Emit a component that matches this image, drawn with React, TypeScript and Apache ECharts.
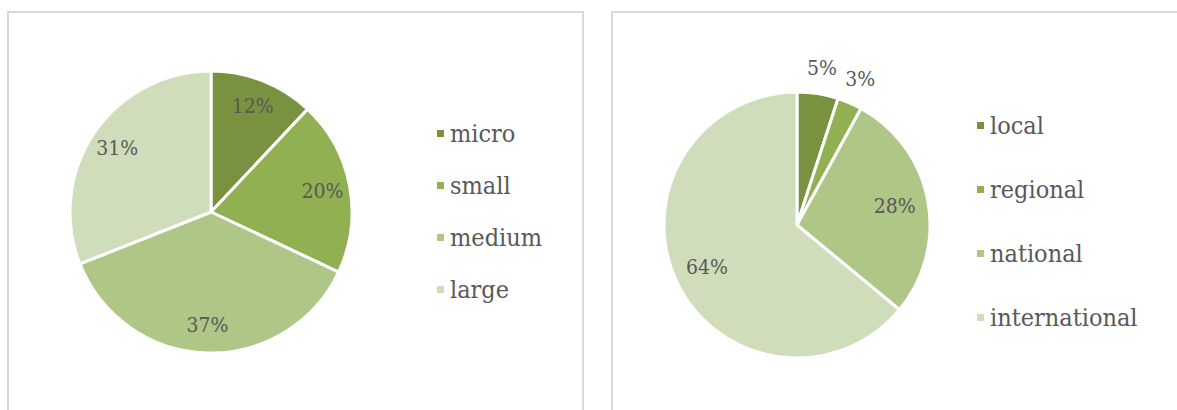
import React, { useEffect, useRef } from "react";
import * as echarts from "echarts";

const sizeNames = ["micro", "small", "medium", "large"];
const sizeValues = [12, 20, 37, 31];
const marketNames = ["local", "regional", "national", "international"];
const marketValues = [5, 3, 28, 64];
const greens = ["#78923F", "#90B052", "#AEC686", "#D0DDBB"];

const FONT = "DejaVu Serif Condensed";
const TEXT = "#595959";

export default function App() {
  const ref = useRef<HTMLDivElement>(null);
  useEffect(() => {
    if (!ref.current) return;
    const chart = echarts.init(ref.current, undefined, { renderer: "svg" });
    const mk = (names: string[], vals: number[]) =>
      names.map((n, i) => ({ name: n, value: vals[i], itemStyle: { color: greens[i] } }));
    const labelStyle = { color: TEXT, fontFamily: FONT, fontSize: 21 };
    chart.setOption({
      animation: false,
      graphic: [
        { type: "rect", shape: { x: 8, y: 12, width: 575, height: 420 }, style: { fill: "none", stroke: "#d9d9d9", lineWidth: 2 }, silent: true },
        { type: "rect", shape: { x: 612, y: 12, width: 600, height: 420 }, style: { fill: "none", stroke: "#d9d9d9", lineWidth: 2 }, silent: true },
      ],
      legend: [
        {
          data: sizeNames,
          orient: "vertical",
          left: 430,
          top: 116,
          icon: "rect",
          itemWidth: 9,
          itemHeight: 9,
          itemGap: 27,
          textStyle: { color: TEXT, fontFamily: FONT, fontSize: 25 },
        },
        {
          data: marketNames,
          orient: "vertical",
          left: 970,
          top: 108,
          icon: "rect",
          itemWidth: 9,
          itemHeight: 9,
          itemGap: 39,
          textStyle: { color: TEXT, fontFamily: FONT, fontSize: 25 },
        },
      ],
      series: [
        {
          type: "pie",
          center: [211, 212],
          radius: [0, 141],
          startAngle: 90,
          clockwise: true,
          data: mk(sizeNames, sizeValues),
          itemStyle: { borderColor: "#fff", borderWidth: 3 },
          label: { show: false },
          labelLine: { show: false },
          silent: true,
        },
        {
          type: "pie",
          center: [211, 212],
          radius: [80, 141],
          startAngle: 90,
          clockwise: true,
          data: sizeNames.map((n, i) => ({ name: n, value: sizeValues[i] })),
          itemStyle: { color: "transparent", borderWidth: 0 },
          label: { show: true, position: "inside", formatter: "{c}%", ...labelStyle },
          labelLine: { show: false },
          silent: true,
        },
        {
          type: "pie",
          center: [797, 225],
          radius: [0, 133],
          startAngle: 90,
          clockwise: true,
          data: mk(marketNames, marketValues),
          itemStyle: { borderColor: "#fff", borderWidth: 3 },
          label: { show: false },
          labelLine: { show: false },
          silent: true,
        },
        {
          type: "pie",
          center: [797, 225],
          radius: [60, 133],
          startAngle: 90,
          clockwise: true,
          data: marketNames.map((n, i) => ({ name: n, value: marketValues[i], label: { show: i >= 2 } })),
          itemStyle: { color: "transparent", borderWidth: 0 },
          label: { position: "inside", formatter: "{c}%", ...labelStyle },
          labelLine: { show: false },
          silent: true,
        },
        {
          type: "pie",
          center: [797, 225],
          radius: [136, 176],
          startAngle: 90,
          clockwise: true,
          data: marketNames.map((n, i) => ({ name: n, value: marketValues[i], label: { show: i < 2 } })),
          itemStyle: { color: "transparent", borderWidth: 0 },
          label: { position: "inside", formatter: "{c}%", ...labelStyle },
          labelLine: { show: false },
          silent: true,
        },
      ],
    });
    return () => chart.dispose();
  }, []);
  return (
    <div
      ref={ref}
      style={{ position: "absolute", left: 0, top: 0, width: 1177, height: 410, background: "#fff" }}
    />
  );
}
